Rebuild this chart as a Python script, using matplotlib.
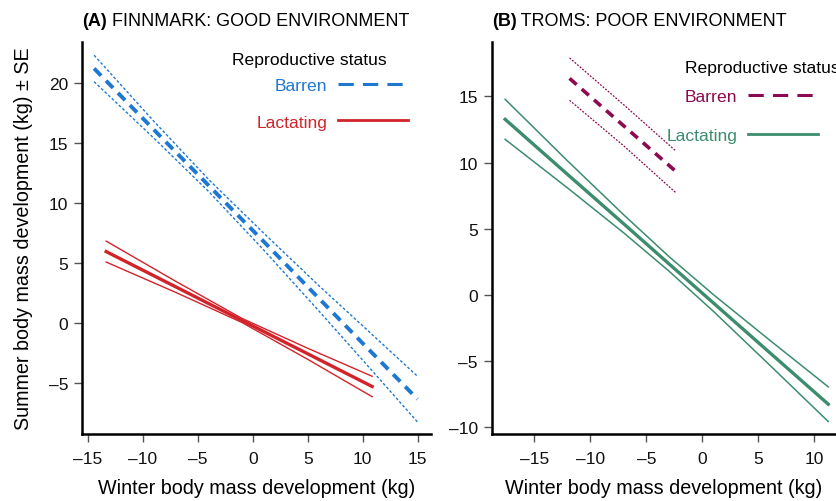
import matplotlib
matplotlib.use("Agg")
import matplotlib.pyplot as plt
from matplotlib.lines import Line2D

plt.rcParams['font.family'] = ['Liberation Sans', 'DejaVu Sans']

# colours
blue = '#1E78D2'
red = '#D2232A'
maroon = '#8C0A50'
green = '#3C8C6E'

# (A) Finnmark - barren
a_bar_x = [-14.45, -9, -4, 1, 6, 10, 15]
a_bar_mean = [21.2, 16.1, 11.45, 6.8, 2.1, -1.65, -6.3]
a_bar_upper = [22.3, 16.8, 11.95, 7.5, 3.15, -0.2, -4.4]
a_bar_lower = [20.1, 15.4, 10.95, 6.1, 1.05, -3.05, -8.2]

# (A) Finnmark - lactating
a_lac_x = [-13.35, -7, -1, 5, 10.87]
a_lac_mean = [5.97, 3.03, 0.25, -2.53, -5.25]
a_lac_upper = [6.84, 3.49, 0.42, -2.07, -4.4]
a_lac_lower = [5.1, 2.57, 0.08, -2.99, -6.1]

# (B) Troms - barren
b_bar_x = [-11.85, -7, -2.4]
b_bar_mean = [16.35, 12.76, 9.36]
b_bar_upper = [17.9, 14.35, 10.9]
b_bar_lower = [14.7, 11.25, 7.75]

# (B) Troms - lactating
b_lac_x = [-17.6, -12, -7, -3, 1, 6, 11.25]
b_lac_mean = [13.26, 9.08, 5.36, 2.37, -0.61, -4.34, -8.25]
b_lac_upper = [14.77, 10.1, 6.04, 2.92, 0.02, -3.4, -6.94]
b_lac_lower = [11.75, 8.06, 4.68, 1.82, -1.24, -5.28, -9.56]

a_xticks = [-15, -10, -5, 0, 5, 10, 15]
a_yticks = [-5, 0, 5, 10, 15, 20]
b_xticks = [-15, -10, -5, 0, 5, 10]
b_yticks = [-10, -5, 0, 5, 10, 15]

W, H = 836, 502
fig = plt.figure(figsize=(W / 100, H / 100), dpi=100)
axA = fig.add_axes([82 / W, (H - 435) / H, (430.7 - 82) / W, 392 / H])
axB = fig.add_axes([491.7 / W, (H - 435) / H, (836 - 491.7) / W, 392 / H])

tick_fs = 12.5
lab_fs = 14.2
leg_fs = 12.6


def style(ax, xticks, yticks):
    for s in ['top', 'right']:
        ax.spines[s].set_visible(False)
    for s in ['left', 'bottom']:
        ax.spines[s].set_linewidth(1.8)
        ax.spines[s].set_color('black')
    ax.set_xticks(xticks)
    ax.set_yticks(yticks)
    ax.set_xticklabels([str(t).replace('-', '\u2013') for t in xticks])
    ax.set_yticklabels([str(t).replace('-', '\u2013') for t in yticks])
    ax.tick_params(axis='both', length=6, width=1, color='#555555',
                   labelsize=tick_fs, labelcolor='#111111')
    ax.tick_params(axis='x', pad=6)
    ax.tick_params(axis='y', pad=4)
    ax.set_xlabel('Winter body mass development (kg)', fontsize=lab_fs)
    ax.xaxis.set_label_coords(0.5, -0.112)


def title(ax, tag, text):
    t1 = ax.text(0.0, 1.043, tag, transform=ax.transAxes, fontsize=13,
                 fontweight='bold', ha='left', va='baseline')
    ax.annotate(' ' + text, xy=(1, 0), xycoords=t1, fontsize=13,
                ha='left', va='bottom')


# ---- panel A ----
axA.plot(a_bar_x, a_bar_upper, color=blue, lw=1.0, ls=(0, (2, 1.5)))
axA.plot(a_bar_x, a_bar_lower, color=blue, lw=1.0, ls=(0, (2, 1.5)))
axA.plot(a_bar_x, a_bar_mean, color=blue, lw=2.8, ls=(0, (2.6, 1.8)))
axA.plot(a_lac_x, a_lac_upper, color=red, lw=1.0)
axA.plot(a_lac_x, a_lac_lower, color=red, lw=1.0)
axA.plot(a_lac_x, a_lac_mean, color=red, lw=2.4)
axA.set_xlim(-15.55, 16.2)
axA.set_ylim(-9.2, 23.4)
style(axA, a_xticks, a_yticks)
axA.set_ylabel('Summer body mass development (kg) \u00b1 SE', fontsize=lab_fs)
axA.yaxis.set_label_coords(-0.14, 0.5)
title(axA, '(A)', 'FINNMARK: GOOD ENVIRONMENT')

# ---- panel B ----
axB.plot(b_bar_x, b_bar_upper, color=maroon, lw=0.9, ls=(0, (1.5, 1.2)))
axB.plot(b_bar_x, b_bar_lower, color=maroon, lw=0.9, ls=(0, (1.5, 1.2)))
axB.plot(b_bar_x, b_bar_mean, color=maroon, lw=2.6, ls=(0, (2.6, 1.9)))
axB.plot(b_lac_x, b_lac_upper, color=green, lw=1.1)
axB.plot(b_lac_x, b_lac_lower, color=green, lw=1.1)
axB.plot(b_lac_x, b_lac_mean, color=green, lw=2.4)
axB.set_xlim(-18.8, 11.94)
axB.set_ylim(-10.5, 19.1)
style(axB, b_xticks, b_yticks)
title(axB, '(B)', 'TROMS: POOR ENVIRONMENT')


# ---- legends ----
def legend(ax, c_bar, c_lac, anchor, title_xy, spacing):
    handles = [Line2D([], [], color=c_bar, lw=2.2, ls=(0, (5, 3))),
               Line2D([], [], color=c_lac, lw=2.0)]
    leg = ax.legend(handles, ['Barren', 'Lactating'], loc='upper right',
                    bbox_to_anchor=anchor, frameon=False, markerfirst=False,
                    fontsize=leg_fs, handlelength=4.0, handletextpad=0.6,
                    labelspacing=spacing, borderpad=0, borderaxespad=0,
                    labelcolor='linecolor')
    ax.text(title_xy[0], title_xy[1], 'Reproductive status',
            transform=ax.transAxes, fontsize=leg_fs, ha='left', va='center',
            clip_on=False)
    return leg


legend(axA, blue, red, (0.935, 0.908), ((232 - 82) / 348.7, (435 - 61) / 392), 1.2)
legend(axB, maroon, green, (0.948, 0.88), ((685 - 491.7) / 344.3, (435 - 68) / 392), 1.35)

fig.savefig('out.png', dpi=100)
